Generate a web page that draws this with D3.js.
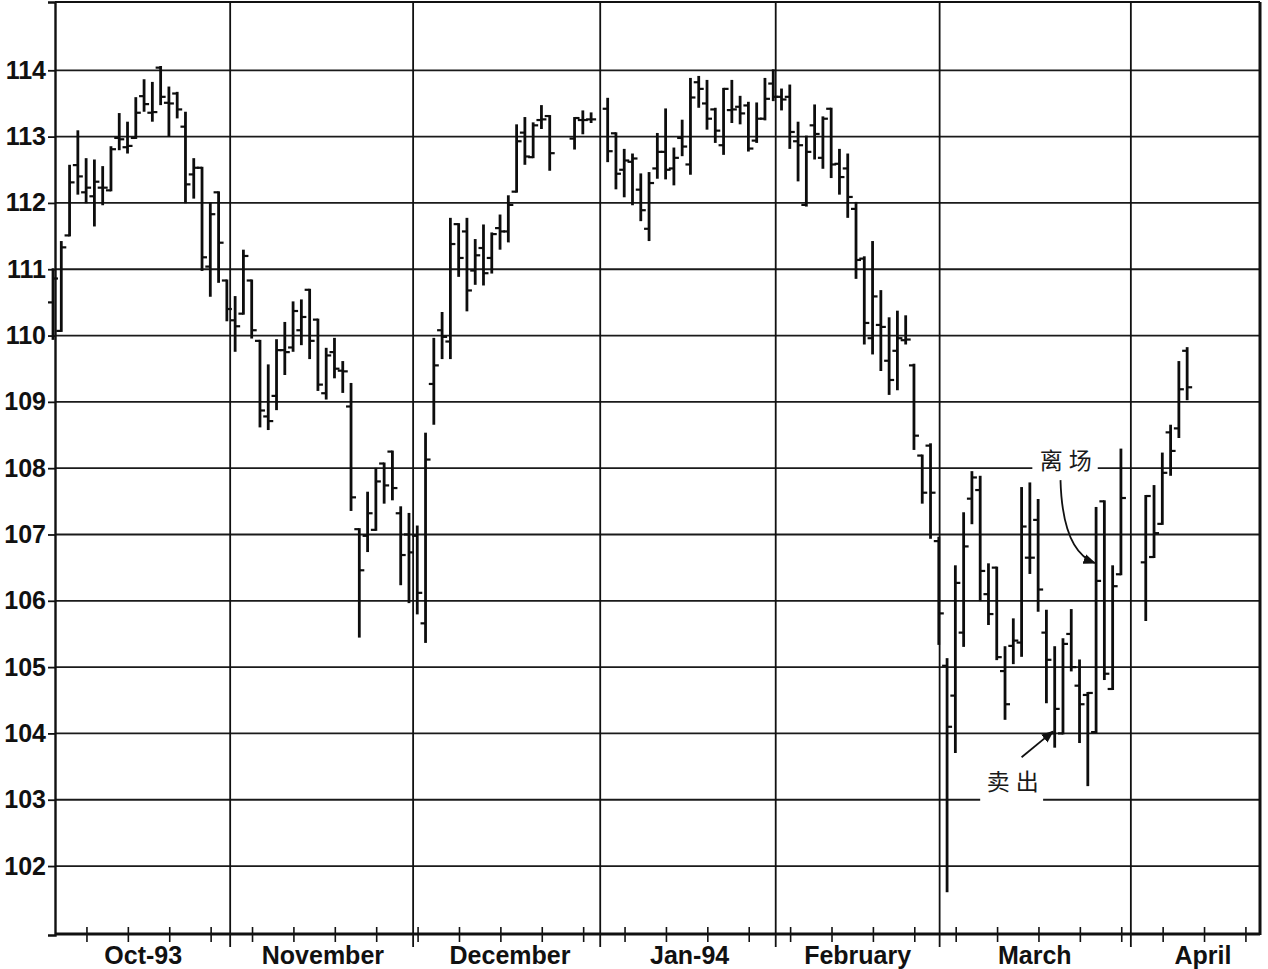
<!DOCTYPE html>
<html>
<head>
<meta charset="utf-8">
<script src="https://cdn.jsdelivr.net/npm/d3@7"></script>
<style>
  body { margin: 0; background: #fff; }
  svg { display: block; }
</style>
</head>
<body>
<div id="chart"></div>
<script>
// daily bars, one slot per weekday (null = no trading)
const openVals = [
  110.5, 110.07, 111.51, 112.57, 112.16, 112.1, 112.23, 112.19, 112.98, 112.84,
  112.98, 113.61, 113.36, 114.04, 113.51, 113.65, 113.15, 112.43, 112.53, 111.04,
  112.16, 110.83, 110.23, 110.33, 110.83, 109.92, 108.78, 109.09, 109.78, 109.82,
  110.08, 110.69, 110.24, 109.13, 109.75, 109.47, 108.93, 107.08, 106.98, 107.07,
  108.07, 108.25, 107.32, 107.0, 106.98, 105.66, 109.27, 110.08, 109.91, 111.68,
  111.57, 110.98, 111.32, 111.17, 111.62, 111.57, 112.17, 113.06, 112.69, 113.25,
  113.31, null, null, 112.97, 113.25, 113.26, null, 113.42, 113.05, 112.5,
  112.62, 112.2, 111.61, 112.52, 112.77, 112.52, 112.98, 112.58, 113.82, 113.5,
  113.41, 112.87, 113.4, 113.45, 113.47, 112.94, 113.27, 113.8, 113.6, 113.6,
  112.93, 111.97, 113.17, 112.68, 113.42, 112.59, 112.52, 111.91, 111.16, 109.96,
  110.16, 109.62, 109.77, 109.93, 109.55, 108.19, 108.34, 106.9, 105.02, 104.57,
  105.52, 107.54, 107.67, 106.1, 106.5, 104.94, 105.32, 105.37, 106.65, 107.22,
  105.52, 104.0, 104.0, 105.5, 104.72, 104.58, 104.02, 107.5, 104.67, 106.4,
  null, null, 106.58, 106.66, 107.16, 108.54, 108.6, 109.77
];
const highVals = [
  111.0, 111.41, 112.56, 113.08, 112.66, 112.64, 112.54, 112.84, 113.34, 113.21,
  113.58, 113.85, 113.81, 114.05, 113.74, 113.66, 113.36, 112.66, 112.53, 111.99,
  112.16, 110.83, 110.58, 111.28, 110.83, 109.92, 109.55, 109.93, 110.19, 110.5,
  110.53, 110.69, 110.24, 109.8, 109.95, 109.6, 109.27, 107.08, 107.63, 107.99,
  108.07, 108.25, 107.41, 107.31, 107.12, 108.52, 109.95, 110.34, 111.76, 111.68,
  111.76, 111.44, 111.66, 111.54, 111.81, 112.1, 113.17, 113.28, 113.2, 113.46,
  113.31, null, null, 113.28, 113.38, 113.35, null, 113.57, 113.05, 112.8,
  112.73, 112.43, 112.45, 113.04, 113.41, 112.82, 113.24, 113.87, 113.9, 113.84,
  113.42, 113.72, 113.84, 113.6, 113.51, 113.5, 113.87, 114.0, 113.71, 113.77,
  113.21, 113.0, 113.47, 113.29, 113.42, 112.8, 112.73, 112.0, 111.18, 111.41,
  110.67, 110.26, 110.36, 110.29, 109.56, 108.19, 108.36, 106.95, 105.12, 106.52,
  107.32, 107.94, 107.87, 106.55, 106.5, 105.3, 105.72, 107.7, 107.77, 107.52,
  105.85, 105.3, 105.42, 105.86, 105.1, 104.61, 107.4, 107.5, 106.52, 108.28,
  null, null, 107.58, 107.73, 108.22, 108.64, 109.6, 109.81
];
const lowVals = [
  109.95, 110.07, 111.51, 112.14, 112.01, 111.66, 111.98, 112.19, 112.81, 112.76,
  112.98, 113.39, 113.24, 113.49, 113.01, 113.29, 112.01, 112.08, 110.99, 110.6,
  110.81, 110.23, 109.77, 110.33, 109.97, 108.63, 108.59, 108.89, 109.42, 109.77,
  109.87, 109.66, 109.18, 109.05, 109.37, 109.15, 107.37, 105.46, 106.75, 107.07,
  107.48, 107.53, 106.25, 105.98, 105.81, 105.38, 108.67, 109.66, 109.66, 110.9,
  110.38, 110.78, 110.77, 110.95, 111.31, 111.42, 112.17, 112.59, 112.69, 113.13,
  112.5, null, null, 112.82, 113.05, 113.22, null, 112.63, 112.22, 112.1,
  111.98, 111.74, 111.44, 112.38, 112.37, 112.28, 112.72, 112.44, 113.45, 113.12,
  112.92, 112.74, 113.22, 113.2, 112.79, 112.92, 113.26, 113.55, 113.41, 112.83,
  112.34, 111.96, 112.67, 112.53, 112.39, 112.14, 111.79, 110.87, 109.88, 109.73,
  109.48, 109.12, 109.19, 109.88, 108.29, 107.48, 106.95, 105.35, 101.62, 103.72,
  105.32, 107.17, 106.01, 105.65, 105.12, 104.22, 105.06, 105.17, 106.42, 105.85,
  104.47, 103.8, 104.0, 104.95, 103.87, 103.22, 104.02, 104.82, 104.67, 106.4,
  null, null, 105.71, 106.66, 107.16, 107.9, 108.47, 109.04
];
const closeVals = [
  110.86, 111.33, 112.31, 112.4, 112.23, 112.32, 112.23, 112.81, 112.96, 112.86,
  113.36, 113.49, 113.37, 113.6, 113.5, 113.41, 112.28, 112.53, 111.18, 111.83,
  111.4, 110.4, 110.14, 111.2, 110.08, 108.87, 108.71, 109.78, 109.75, 110.37,
  110.28, 109.92, 109.26, 109.7, 109.5, 109.46, 107.56, 106.46, 107.32, 107.8,
  107.74, 107.7, 106.69, 106.73, 106.12, 108.13, 109.55, 109.98, 111.38, 111.17,
  110.68, 111.21, 110.94, 111.53, 111.57, 111.97, 112.93, 112.7, 113.17, 113.26,
  112.75, null, null, 113.28, 113.25, 113.26, null, 112.78, 112.44, 112.64,
  112.67, 111.89, 112.3, 112.77, 112.5, 112.68, 112.85, 113.59, 113.72, 113.27,
  113.09, 113.72, 113.41, 113.35, 112.82, 113.27, 113.57, 113.6, 113.56, 113.07,
  112.87, 112.77, 113.04, 113.27, 112.58, 112.39, 112.09, 111.14, 110.19, 110.59,
  110.13, 109.33, 109.96, 109.94, 108.49, 107.63, 107.63, 105.81, 104.1, 106.27,
  106.82, 107.86, 106.45, 105.8, 105.15, 104.44, 105.4, 107.12, 106.65, 106.17,
  105.11, 104.37, 105.35, 105.0, 104.44, 104.61, 106.3, 104.9, 106.22, 107.55,
  null, null, 107.58, 107.02, 107.93, 108.26, 109.19, 109.22
];

const yTicks = [102, 103, 104, 105, 106, 107, 108, 109, 110, 111, 112, 113, 114];
const monthLabels = ['Oct-93', 'November', 'December', 'Jan-94', 'February', 'March', 'April'];
const monthLabelAt = [10.9, 32.6, 55.2, 76.9, 97.2, 118.6, 138.9];
const monthLines = [21.4, 43.5, 66.1, 87.3, 107.1, 130.2];

// annotations: label (slot, price of its baseline), gridline it breaks,
// arrow from (ax, ay) to the bar at (bx, by)
const notes = [
  { text: '离场', tx: 122.7, ty: 107.98, grid: 108, g0: 118.3, g1: 126.2,
    ax: 121.7, ay: 107.82, bx: 125.85, by: 106.57, curve: true },
  { text: '卖出', tx: 116.3, ty: 103.14, grid: 103, g0: 112.0, g1: 119.6,
    ax: 117.0, ay: 103.64, bx: 120.8, by: 104.03, curve: false }
];

const W = 1268, H = 969;
const plotL = 55, plotR = 1260, plotT = 2, plotB = 935;

const x = d3.scaleLinear().domain([0.24, 145.8]).range([plotL, plotR]);
const y = d3.scaleLinear().domain([100.96, 115.03]).range([plotB, plotT]);

const svg = d3.select('#chart').append('svg')
  .attr('width', W).attr('height', H)
  .style('font-family', '"Liberation Sans", Arial, sans-serif');

svg.append('rect').attr('width', W).attr('height', H).attr('fill', '#fff');

// horizontal grid
svg.append('g').selectAll('line').data(yTicks).enter().append('line')
  .attr('x1', plotL).attr('x2', plotR)
  .attr('y1', d => y(d)).attr('y2', d => y(d))
  .attr('stroke', '#1a1a1a').attr('stroke-width', 1.8);

// month separators
svg.append('g').selectAll('line').data(monthLines).enter().append('line')
  .attr('x1', d => x(d)).attr('x2', d => x(d))
  .attr('y1', plotT).attr('y2', plotB + 12)
  .attr('stroke', '#111').attr('stroke-width', 1.8);

// frame
svg.append('line').attr('x1', plotL).attr('x2', plotR).attr('y1', plotT).attr('y2', plotT)
  .attr('stroke', '#111').attr('stroke-width', 2);
svg.append('line').attr('x1', plotR).attr('x2', plotR).attr('y1', plotT).attr('y2', plotB)
  .attr('stroke', '#111').attr('stroke-width', 3);

// y axis
const yAxis = svg.append('g')
  .attr('transform', `translate(${plotL},0)`)
  .call(d3.axisLeft(y).tickValues(yTicks).tickSize(7).tickPadding(2).tickFormat(d3.format('d')));
yAxis.select('.domain').attr('stroke', '#111').attr('stroke-width', 2.4);
yAxis.selectAll('.tick line').attr('stroke', '#111').attr('stroke-width', 1.8);
yAxis.selectAll('.tick text')
  .attr('fill', '#111')
  .style('font-size', '25px').style('font-weight', 'bold')
  .style('font-family', '"Liberation Sans", Arial, sans-serif');

// x axis: weekly ticks crossing the base line
const weekTicks = d3.range(4.1, 145.8, 5);
svg.append('g').selectAll('line').data(weekTicks).enter().append('line')
  .attr('x1', d => x(d)).attr('x2', d => x(d))
  .attr('y1', plotB - 8).attr('y2', plotB + 7)
  .attr('stroke', '#111').attr('stroke-width', 1.6);
svg.append('line').attr('x1', plotL).attr('x2', plotR).attr('y1', plotB - 1).attr('y2', plotB - 1)
  .attr('stroke', '#111').attr('stroke-width', 3);

svg.append('g').selectAll('text').data(monthLabels).enter().append('text')
  .attr('x', (d, i) => x(monthLabelAt[i]))
  .attr('y', 964)
  .attr('text-anchor', 'middle')
  .attr('fill', '#111')
  .style('font-size', '25px').style('font-weight', 'bold')
  .text(d => d);

// OHLC bars
const bars = openVals.map((o, i) => ({ i, o, h: highVals[i], l: lowVals[i], c: closeVals[i] }))
  .filter(d => d.h != null);

const g = svg.append('g').attr('stroke', '#0d0d0d');
g.selectAll('.hl').data(bars).enter().append('line')
  .attr('class', 'hl')
  .attr('x1', d => x(d.i)).attr('x2', d => x(d.i))
  .attr('y1', d => y(d.h) - 1).attr('y2', d => y(d.l) + 1)
  .attr('stroke-width', 2.8);
g.selectAll('.op').data(bars).enter().append('line')
  .attr('class', 'op')
  .attr('x1', d => x(d.i) - 5).attr('x2', d => x(d.i))
  .attr('y1', d => y(d.o)).attr('y2', d => y(d.o))
  .attr('stroke-width', 2.2);
g.selectAll('.cl').data(bars).enter().append('line')
  .attr('class', 'cl')
  .attr('x1', d => x(d.i)).attr('x2', d => x(d.i) + 5)
  .attr('y1', d => y(d.c)).attr('y2', d => y(d.c))
  .attr('stroke-width', 2.2);

// annotations
const defs = svg.append('defs');
defs.append('marker')
  .attr('id', 'head').attr('viewBox', '0 0 10 10')
  .attr('refX', 9).attr('refY', 5)
  .attr('markerWidth', 7).attr('markerHeight', 7)
  .attr('orient', 'auto')
  .append('path').attr('d', 'M0,1 L10,5 L0,9 Z').attr('fill', '#111');

notes.forEach(n => {
  const ng = svg.append('g');
  ng.append('rect').attr('fill', '#fff')
    .attr('x', x(n.g0)).attr('y', y(n.grid) - 3)
    .attr('width', x(n.g1) - x(n.g0)).attr('height', 6);
  ng.append('text')
    .attr('x', x(n.tx)).attr('y', y(n.ty))
    .attr('text-anchor', 'middle')
    .attr('fill', '#1a1a1a')
    .style('font-size', '23px')
    .style('font-family', '"Noto Sans CJK SC", sans-serif')
    .style('letter-spacing', '6px')
    .text(n.text);
  const x0 = x(n.ax), y0 = y(n.ay), x1 = x(n.bx), y1 = y(n.by);
  const p = d3.path();
  p.moveTo(x0, y0);
  if (n.curve) p.quadraticCurveTo(x0 + 2, y1 - 12, x1, y1);
  else p.lineTo(x1, y1);
  ng.append('path').attr('d', p.toString())
    .attr('fill', 'none').attr('stroke', '#111').attr('stroke-width', 1.8)
    .attr('marker-end', 'url(#head)');
});
</script>
</body>
</html>
